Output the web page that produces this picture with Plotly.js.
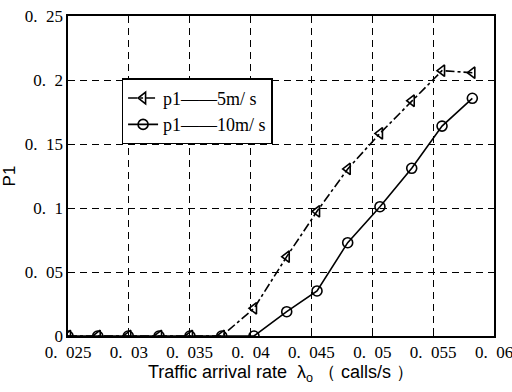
<!DOCTYPE html>
<html><head><meta charset="utf-8">
<script src="https://cdn.plot.ly/plotly-3.0.1.min.js"></script>
<style>body{margin:0;background:#fff}#c{width:512px;height:392px}</style>
</head><body><div id="c"></div>
<script>
const xVals = [0.0250, 0.02744, 0.02995, 0.03248, 0.03502, 0.03763, 0.04028, 0.04297, 0.04546, 0.04798, 0.05063, 0.05324, 0.05573, 0.05822];
const p1At5 = [0, 0, 0, 0, 0, 0, 0.0216, 0.062, 0.0974, 0.1305, 0.1583, 0.1838, 0.2073, 0.2057];
const p1At10 = [0, 0, 0, 0, 0, 0, 0, 0.019, 0.0352, 0.0729, 0.101, 0.131, 0.164, 0.1857];
const names = ["p1——5m/ s", "p1——10m/ s"];
const xTicks = [0.025, 0.03, 0.035, 0.04, 0.045, 0.05, 0.055, 0.06];
const xTickText = ["0.\u00a0 025", "0.\u00a0 03", "0.\u00a0 035", "0.\u00a0 04", "0.\u00a0 045", "0.\u00a0 05", "0.\u00a0 055", "0.\u00a0 06"];
const yTicks = [0, 0.05, 0.1, 0.15, 0.2, 0.25];
const yTickText = ["0", "0.\u00a0 05", "0.\u00a0 1", "0.\u00a0 15", "0.\u00a0 2", "0.\u00a0 25"];

const serif = "Liberation Serif";
const sans = "Liberation Sans";

const traces = [
  {x: xVals, y: p1At5, name: names[0], mode: "lines+markers",
   line: {color: "#000", width: 1.6, dash: "dashdot"},
   marker: {symbol: "triangle-left-open", size: 10, color: "#000", line: {width: 1.6, color: "#000"}}},
  {x: xVals, y: p1At10, name: names[1], mode: "lines+markers",
   line: {color: "#000", width: 1.6},
   marker: {symbol: "circle-open", size: 10, color: "#000", line: {width: 1.6, color: "#000"}}}
];

const layout = {
  width: 512, height: 392,
  margin: {l: 68, r: 18, t: 16, b: 56},
  paper_bgcolor: "#fff", plot_bgcolor: "#fff",
  showlegend: true,
  legend: {x: 0.126, y: 0.805, xanchor: "left", yanchor: "top",
    bgcolor: "#fff", bordercolor: "#000", borderwidth: 1.4,
    font: {family: serif, size: 18, color: "#000"}, tracegroupgap: 0},
  xaxis: {range: [0.025, 0.06], tickvals: xTicks, ticktext: xTickText,
    showline: true, mirror: true, linecolor: "#000", linewidth: 1.6,
    showgrid: true, gridcolor: "#000", gridwidth: 1, griddash: "7px,5px",
    zeroline: false, ticks: "inside", ticklen: 4, tickcolor: "#000",
    ticklabeloverflow: "allow",
    tickfont: {family: serif, size: 17, color: "#000"},
    title: {text: "Traffic arrival rate  λ<sub>o</sub> （ calls/s ）", font: {family: sans, size: 18, color: "#000"}, standoff: 2}},
  yaxis: {range: [0, 0.25], tickvals: yTicks, ticktext: yTickText,
    showline: true, mirror: true, linecolor: "#000", linewidth: 1.6,
    showgrid: true, gridcolor: "#000", gridwidth: 1, griddash: "7px,5px",
    zeroline: false, ticks: "inside", ticklen: 4, tickcolor: "#000",
    ticklabeloverflow: "allow",
    tickfont: {family: serif, size: 17, color: "#000"},
    title: {text: "P1", font: {family: sans, size: 17, color: "#000"}, standoff: 8}}
};
Plotly.newPlot("c", traces, layout, {displayModeBar: false, staticPlot: true});
</script></body></html>
